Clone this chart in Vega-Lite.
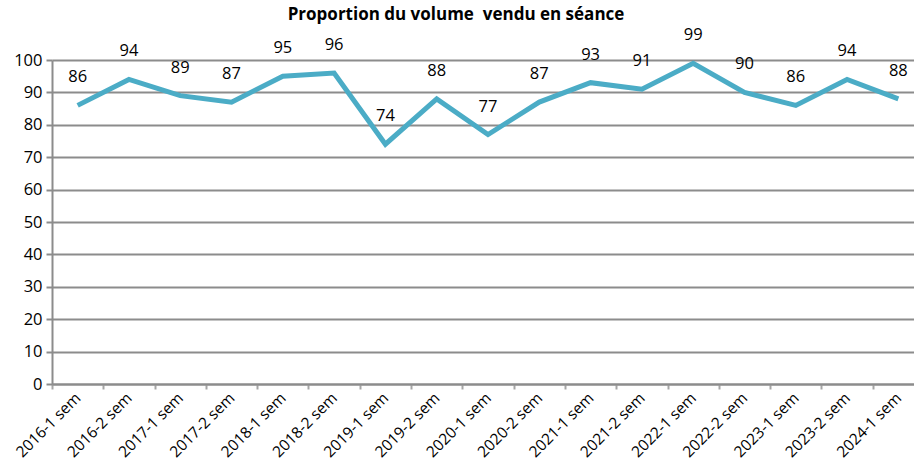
{
  "$schema": "https://vega.github.io/schema/vega-lite/v6.json",
  "width": 872,
  "height": 324,
  "autosize": {"type": "none"},
  "padding": {"left": 52, "top": 60, "right": 0, "bottom": 89},
  "background": "white",
  "title": {
    "text": "Proportion du volume\u00a0 vendu en séance",
    "font": "Open Sans",
    "fontSize": 17,
    "fontWeight": "bold",
    "color": "#000000",
    "anchor": "middle",
    "dx": -32,
    "offset": 3
  },
  "config": {
    "view": {"stroke": null},
    "font": "Open Sans"
  },
  "data": {
    "values": [
      {"periode": "2016-1 sem", "valeur": 86},
      {"periode": "2016-2 sem", "valeur": 94},
      {"periode": "2017-1 sem", "valeur": 89},
      {"periode": "2017-2 sem", "valeur": 87},
      {"periode": "2018-1 sem", "valeur": 95},
      {"periode": "2018-2 sem", "valeur": 96},
      {"periode": "2019-1 sem", "valeur": 74},
      {"periode": "2019-2 sem", "valeur": 88},
      {"periode": "2020-1 sem", "valeur": 77},
      {"periode": "2020-2 sem", "valeur": 87},
      {"periode": "2021-1 sem", "valeur": 93},
      {"periode": "2021-2 sem", "valeur": 91},
      {"periode": "2022-1 sem", "valeur": 99},
      {"periode": "2022-2 sem", "valeur": 90},
      {"periode": "2023-1 sem", "valeur": 86},
      {"periode": "2023-2 sem", "valeur": 94},
      {"periode": "2024-1 sem", "valeur": 88}
    ]
  },
  "encoding": {
    "x": {
      "field": "periode",
      "type": "nominal",
      "sort": null,
      "scale": {"type": "band", "paddingInner": 0, "paddingOuter": 0},
      "axis": {
        "title": null,
        "labelAngle": -45,
        "labelAlign": "right",
        "labelBaseline": "middle",
        "labelFontSize": 15.5,
        "labelColor": "#000000",
        "labelPadding": 6,
        "tickBand": "extent",
        "tickSize": 5,
        "tickColor": "#a6a6a6",
        "tickWidth": 2,
        "domainColor": "#8c8c8c",
        "domainWidth": 2,
        "grid": false
      }
    },
    "y": {
      "field": "valeur",
      "type": "quantitative",
      "scale": {"domain": [0, 100], "nice": false, "zero": true},
      "axis": {
        "title": null,
        "values": [0, 10, 20, 30, 40, 50, 60, 70, 80, 90, 100],
        "labelFontSize": 16.5,
        "labelColor": "#000000",
        "labelPadding": 4,
        "tickSize": 6,
        "tickColor": "#8c8c8c",
        "tickWidth": 2,
        "domainColor": "#8c8c8c",
        "domainWidth": 2,
        "grid": true,
        "gridColor": "#8c8c8c",
        "gridWidth": 2
      }
    }
  },
  "layer": [
    {
      "mark": {"type": "line", "color": "#4BACC6", "strokeWidth": 5, "strokeJoin": "miter"}
    },
    {
      "mark": {"type": "text", "fontSize": 16.5, "color": "#000000", "dy": -28, "baseline": "middle"},
      "encoding": {"text": {"field": "valeur", "type": "quantitative"}}
    }
  ]
}
